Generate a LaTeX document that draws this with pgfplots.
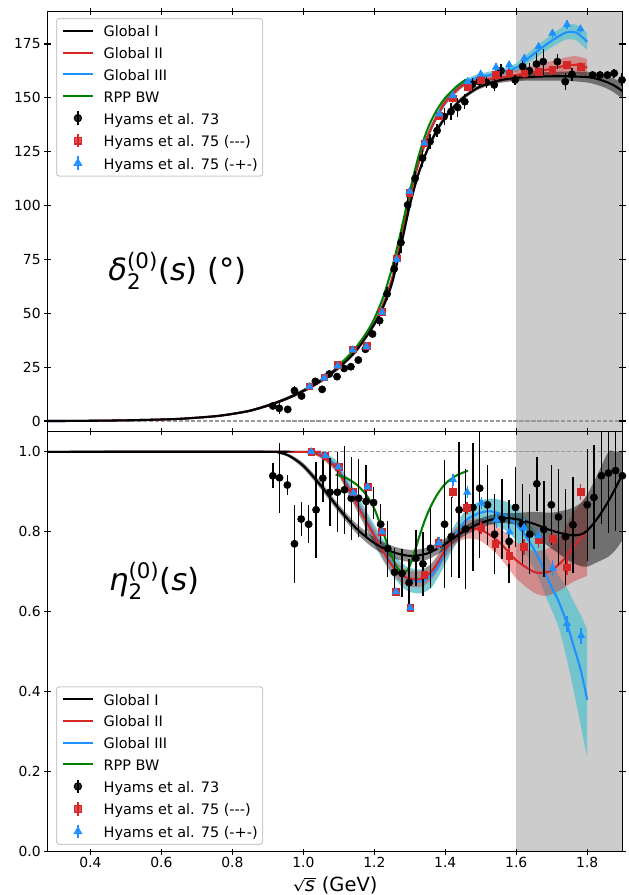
\documentclass[border=0pt]{standalone}
\usepackage{fontspec}
\setmainfont{DejaVu Sans}
\usepackage{graphicx}
\usepackage{pgfplots}
\usepackage{pgfplotstable}
\pgfplotsset{compat=1.18}
\usepgfplotslibrary{fillbetween}
\definecolor{mplred}{HTML}{D62728}
\definecolor{mplblue}{HTML}{1E90FF}
\definecolor{mplgreen}{HTML}{008000}
\definecolor{bandcyan}{RGB}{100,195,205}
\newcommand{\sqrts}{\mbox{\scalebox{1}[0.72]{√}\kern-0.04em\rlap{\rule[0.62em]{0.6em}{0.055em}}\kern0.03em\textit{s}\kern0.03em}}

\pgfplotsset{
  lineleg/.style={legend image code/.code={\draw[##1, line width=1.5pt] (0pt,0pt) -- (22pt,0pt);}},
  markleg/.style={legend image code/.code={\draw[##1, solid, line width=1pt, mark=none] (11pt,-4.8pt) -- (11pt,4.8pt); \draw[##1] plot coordinates {(11pt,0pt)};}},
  myax/.style={scale only axis, width=414pt, height=302.4pt, xmin=0.2791, xmax=1.9,
    set layers, axis on top,
    tick align=center, major tick length=4.8pt,
    axis line style={line width=0.8pt}, every tick/.style={black, line width=0.8pt},
    tick label style={font=\fontsize{10}{12}\selectfont},
    xticklabel shift=-2pt, yticklabel shift=-1pt,
    /pgf/number format/assume math mode=true,
    xtick={0.4,0.6,0.8,1.0,1.2,1.4,1.6,1.8},
    legend cell align=left,
    legend style={font=\fontsize{10.4}{12}\selectfont, draw=black!20, line width=0.8pt, rounded corners=2pt,
      fill=white, fill opacity=0.8, text opacity=1, draw opacity=1,
      inner xsep=3.6pt, inner ysep=4pt, row sep=5.6pt,
      nodes={inner sep=0pt, text height=9.3pt, text depth=0.7pt},
      /tikz/column 1/.style={column sep=6.8pt}},
  },
}

% ---------------- top panel curves: x  y  lo  hi
\pgfplotstableread{
x y lo hi
0.2791 0 0 0
0.35 0.05 0.05 0.05
0.45 0.2 0.2 0.2
0.55 0.5 0.4 0.6
0.65 1.0 0.8 1.2
0.75 2.2 1.9 2.5
0.8 3.3 2.9 3.7
0.85 4.8 4.3 5.3
0.9 7.2 6.6 7.8
0.95 10.2 9.5 10.9
1.0 14 13.2 14.8
1.05 18.8 17.9 19.7
1.1 25 24 26
1.15 33 32 34
1.2 45 43.8 46.2
1.225 53 51.6 54.4
1.25 64 62.5 65.5
1.275 81 79.5 82.5
1.3 100 98.5 101.5
1.325 115 113.5 116.5
1.35 126 124.5 127.5
1.375 134.5 133.1 135.9
1.4 141 139.8 142.2
1.425 146 144.9 147.1
1.45 150 149 151
1.475 153 152 154
1.5 155.3 154.3 156.3
1.55 158 156.8 159.2
1.6 159.3 157.8 160.8
1.65 159.8 158 161.6
1.7 160 158 162
1.75 160 157.8 162.2
1.8 159.6 157.1 162.1
1.83 158.7 155.9 161.5
1.86 157 154 160
1.88 155.3 152 158.6
1.9 153 149.5 156.5
}\gItop

\pgfplotstableread{
x y lo hi
0.2791 0 0 0
0.35 0.05 0.05 0.05
0.45 0.2 0.2 0.2
0.55 0.5 0.4 0.6
0.65 1.0 0.8 1.2
0.75 2.2 1.9 2.5
0.8 3.3 2.9 3.7
0.85 4.8 4.3 5.3
0.9 7.2 6.6 7.8
0.95 10.2 9.5 10.9
1.0 14 13.2 14.8
1.05 18.8 17.9 19.7
1.1 25 24 26
1.15 33 32 34
1.2 45 43.8 46.2
1.225 54 52.5 55.5
1.25 66 64.5 67.5
1.275 84 82.5 85.5
1.3 104 102.5 105.5
1.325 120 118.5 121.5
1.35 132 130.5 133.5
1.375 141 139.5 142.5
1.4 148 146.5 149.5
1.425 153 151.5 154.5
1.45 156.5 155 158
1.475 158.5 157 160
1.5 159.8 158.3 161.3
1.55 161.5 159.8 163.2
1.6 164 162 166
1.65 170.5 168 173
1.7 176.5 173.5 179.5
1.74 180.3 177 183.6
1.77 180.2 176.5 183.9
1.8 176 172 180
}\gIIItop

\pgfplotstableread{
x y lo hi
0.2791 0 0 0
0.35 0.05 0.05 0.05
0.45 0.2 0.2 0.2
0.55 0.5 0.4 0.6
0.65 1.0 0.8 1.2
0.75 2.2 1.9 2.5
0.8 3.3 2.9 3.7
0.85 4.8 4.3 5.3
0.9 7.2 6.6 7.8
0.95 10.2 9.5 10.9
1.0 14 13.2 14.8
1.05 18.8 17.9 19.7
1.1 25 24 26
1.15 33 32 34
1.2 45 43.8 46.2
1.225 54 52.5 55.5
1.25 66 64.5 67.5
1.275 84 82.5 85.5
1.3 104 102.5 105.5
1.325 120 118.5 121.5
1.35 132 130.5 133.5
1.375 141 139.5 142.5
1.4 148 146.5 149.5
1.425 152.5 151 154
1.45 156 154.8 157.2
1.475 157.3 156 158.6
1.5 158 156.5 159.5
1.55 159.2 157.4 161
1.6 160.6 158.2 163
1.65 162 159 165
1.7 163.5 160 167
1.74 165 161.2 168.8
1.77 165.3 161.3 169.3
1.8 164 160 168
}\gIItop

% ---------------- bottom panel curves
\pgfplotstableread{
x y lo hi
0.2791 1 1 1
0.9 1 1 1
0.93 0.998 0.996 1
0.96 0.99 0.986 0.994
1.0 0.965 0.958 0.972
1.05 0.915 0.906 0.924
1.1 0.858 0.848 0.868
1.15 0.808 0.796 0.82
1.2 0.772 0.758 0.786
1.25 0.75 0.735 0.765
1.3 0.74 0.725 0.755
1.35 0.746 0.731 0.761
1.4 0.77 0.756 0.784
1.45 0.80 0.788 0.812
1.5 0.822 0.81 0.834
1.55 0.834 0.822 0.846
1.6 0.832 0.817 0.847
1.65 0.82 0.79 0.85
1.7 0.803 0.758 0.848
1.75 0.792 0.727 0.857
1.78 0.793 0.715 0.871
1.8 0.803 0.713 0.893
1.83 0.835 0.725 0.945
1.86 0.877 0.738 1.0
1.88 0.91 0.755 1.0
1.9 0.945 0.78 1.0
}\gIbot

\pgfplotstableread{
x y lo hi
0.2791 1 1 1
1.0 1 1 1
1.02 0.999 0.997 1
1.05 0.99 0.983 0.997
1.08 0.97 0.961 0.979
1.1 0.95 0.94 0.96
1.15 0.87 0.855 0.885
1.2 0.79 0.772 0.808
1.25 0.716 0.696 0.736
1.29 0.686 0.666 0.706
1.33 0.682 0.662 0.702
1.36 0.70 0.68 0.72
1.38 0.725 0.705 0.745
1.4 0.755 0.735 0.775
1.43 0.79 0.77 0.81
1.46 0.805 0.783 0.827
1.5 0.805 0.777 0.833
1.55 0.776 0.74 0.812
1.6 0.729 0.684 0.774
1.65 0.70 0.648 0.752
1.68 0.698 0.64 0.756
1.7 0.704 0.644 0.764
1.73 0.727 0.657 0.797
1.76 0.76 0.675 0.845
1.8 0.806 0.69 0.89
}\gIIbot

\pgfplotstableread{
x y lo hi
0.2791 1 1 1
1.0 1 1 1
1.02 0.999 0.997 1
1.05 0.993 0.985 1
1.08 0.975 0.963 0.987
1.1 0.955 0.94 0.97
1.15 0.875 0.855 0.895
1.2 0.793 0.768 0.818
1.25 0.72 0.692 0.748
1.29 0.684 0.654 0.714
1.33 0.676 0.646 0.706
1.36 0.69 0.66 0.72
1.38 0.715 0.687 0.743
1.4 0.748 0.72 0.776
1.43 0.795 0.769 0.821
1.46 0.83 0.805 0.855
1.5 0.848 0.818 0.878
1.53 0.851 0.819 0.883
1.57 0.84 0.804 0.876
1.6 0.818 0.778 0.858
1.63 0.785 0.74 0.83
1.66 0.74 0.69 0.79
1.69 0.68 0.625 0.735
1.72 0.625 0.56 0.69
1.743 0.57 0.48 0.66
1.765 0.505 0.39 0.62
1.783 0.45 0.31 0.59
1.8 0.38 0.235 0.555
}\gIIIbot

\begin{document}
\begin{tikzpicture}
% ======================= TOP PANEL =======================
\begin{axis}[myax, name=top, ymin=-5, ymax=190,
  ytick={0,25,50,75,100,125,150,175}, xticklabels={},
  yticklabel style={/pgf/number format/fixed, /pgf/number format/precision=0},
  legend style={at={(0.0148,0.985)}, anchor=north west}]
\addplot[fill=black!20, draw=none, forget plot, on layer=axis background] coordinates {(1.6,-5) (1.9,-5) (1.9,190) (1.6,190)} -- cycle;
\addplot[black!40, line width=0.8pt, dash pattern=on 3pt off 1.3pt, forget plot, on layer=axis background] coordinates {(0.2791,0) (1.9,0)};
% bands
\addplot[draw=none, name path=IIIu, smooth, forget plot] table[x=x,y=hi] {\gIIItop};
\addplot[draw=none, name path=IIIl, smooth, forget plot] table[x=x,y=lo] {\gIIItop};
\addplot[fill=bandcyan, fill opacity=0.85, draw=none, forget plot] fill between[of=IIIu and IIIl];
\addplot[draw=none, name path=IIu, smooth, forget plot] table[x=x,y=hi] {\gIItop};
\addplot[draw=none, name path=IIl, smooth, forget plot] table[x=x,y=lo] {\gIItop};
\addplot[fill=mplred, fill opacity=0.4, draw=none, forget plot] fill between[of=IIu and IIl];
\addplot[draw=none, name path=Iu, smooth, forget plot] table[x=x,y=hi] {\gItop};
\addplot[draw=none, name path=Il, smooth, forget plot] table[x=x,y=lo] {\gItop};
\addplot[fill=black, fill opacity=0.45, draw=none, forget plot] fill between[of=Iu and Il];
% curves
\addplot[mplblue, line width=1.5pt, smooth, forget plot] table[x=x,y=y] {\gIIItop};
\addplot[mplred, line width=1.5pt, smooth, forget plot] table[x=x,y=y] {\gIItop};
\addplot[black, line width=1.5pt, smooth, forget plot] table[x=x,y=y] {\gItop};
\addplot[mplgreen, line width=1.5pt, smooth, forget plot] coordinates {
(1.087,24.6) (1.12,29) (1.15,34.5) (1.18,41.5) (1.2,47.5) (1.225,57.5) (1.25,71) (1.275,88)
(1.3,106.5) (1.325,123) (1.35,135.5) (1.375,144) (1.4,150) (1.43,155) (1.458,158.5)};
% data
\addplot[only marks, mark=*, mark size=2.6pt, black, forget plot,
  error bars/.cd, y dir=both, y explicit, error mark=none, error bar style={line width=1pt, black}]
  table[x=x, y=y, y error=e] {
x y e
0.914 7.0 1.5
0.932 5.9 2.5
0.956 5.4 1.2
0.975 14.1 2
0.995 11.6 1.2
1.034 18.4 1.5
1.053 14.7 1.5
1.073 21.8 1.5
1.095 20.6 1.5
1.115 24.4 1.5
1.134 25.2 1.5
1.155 28.3 1.5
1.175 33.3 1.5
1.195 40.4 2
1.215 46.6 2.5
1.236 59.0 3
1.256 70.6 3
1.275 82.8 5
1.294 100.3 4.5
1.315 112.6 3.5
1.336 122 4
1.357 129.7 3.5
1.377 134.8 3
1.397 141.3 4
1.416 143.6 4
1.435 145.5 4.5
1.455 148.2 3.5
1.477 156.3 3
1.496 157.5 2.5
1.516 157.2 2.5
1.538 156 3
1.557 162.6 3
1.597 158.3 2.5
1.618 164.5 3
1.637 162.6 3.5
1.657 165.7 5
1.676 166.8 6
1.716 166.8 3.5
1.738 157.5 4
1.757 160.9 3
1.815 160.6 2
1.836 160.6 2
1.857 160.6 2
1.876 161.4 2
1.898 158.3 3
};
\addplot[only marks, mark=square*, mark size=2.4pt, mplred, forget plot,
  error bars/.cd, y dir=both, y explicit, error mark=none, error bar style={line width=1pt, mplred}]
  table[x=x, y=y, y error=e] {
x y e
1.017 16.2 1
1.059 20.3 1
1.097 26.0 1
1.139 33.3 1
1.178 34.8 1
1.222 50.8 1.5
1.263 75.5 1.5
1.299 106 2
1.341 128.9 2
1.383 141.6 2
1.421 149.8 2
1.463 155.2 2
1.50 158.3 2
1.543 160.6 2
1.58 161.4 2
1.623 161.4 2
1.663 162.2 2
1.702 163 2
1.743 165.3 2
1.781 164.5 2
};
\addplot[only marks, mark=triangle*, mark size=3pt, mplblue, forget plot,
  error bars/.cd, y dir=both, y explicit, error mark=none, error bar style={line width=1pt, mplblue}]
  table[x=x, y=y, y error=e] {
x y e
1.017 16.0 1
1.059 20.0 1
1.097 25.5 1
1.139 33.0 1
1.178 34.5 1
1.222 50.5 1.5
1.263 75 1.5
1.299 106.5 2
1.341 129 2
1.383 142.5 2
1.421 151 2
1.463 157.5 2
1.50 161 2
1.543 164.2 2
1.58 165.3 2
1.623 168.4 2
1.663 173.8 2
1.702 180 2
1.743 184 2
1.781 182 2
};
% legend
\addlegendimage{lineleg, black}\addlegendentry{Global I}
\addlegendimage{lineleg, mplred}\addlegendentry{Global II}
\addlegendimage{lineleg, mplblue}\addlegendentry{Global III}
\addlegendimage{lineleg, mplgreen}\addlegendentry{RPP BW}
\addlegendimage{markleg, only marks, mark=*, mark size=2.6pt, black}\addlegendentry{Hyams et al. 73}
\addlegendimage{markleg, only marks, mark=square*, mark size=2.4pt, mplred}\addlegendentry{Hyams et al. 75 (-{}-{}-)}
\addlegendimage{markleg, only marks, mark=triangle*, mark size=3pt, mplblue}\addlegendentry{Hyams et al. 75 (-+-)}
\node[anchor=base west, inner sep=0pt, font=\fontsize{22}{26}\selectfont] at (axis cs:0.45,65)
  {\textit{δ}$_{\mbox{\fontsize{15.4}{16}\selectfont 2}}^{\mbox{\fontsize{15.4}{16}\selectfont (0)}}$(\textit{s}) (°)};
\end{axis}

% ======================= BOTTOM PANEL =======================
\begin{axis}[myax, name=bot, at={(top.south west)}, anchor=north west, ymin=0, ymax=1.05,
  ytick={0,0.2,0.4,0.6,0.8,1.0},
  yticklabel style={/pgf/number format/fixed, /pgf/number format/fixed zerofill, /pgf/number format/precision=1},
  xticklabel style={/pgf/number format/fixed, /pgf/number format/fixed zerofill, /pgf/number format/precision=1},
  xlabel={\sqrts{} (GeV)},
  xlabel style={font=\fontsize{14}{16}\selectfont, at={(axis description cs:0.5,-0.0935)}, anchor=base},
  legend style={at={(0.0148,0.0167)}, anchor=south west}]
\addplot[fill=black!20, draw=none, forget plot, on layer=axis background] coordinates {(1.6,0) (1.9,0) (1.9,1.05) (1.6,1.05)} -- cycle;
\addplot[black!40, line width=0.8pt, dash pattern=on 3pt off 1.3pt, forget plot, on layer=axis background] coordinates {(0.2791,1) (1.9,1)};
% bands
\addplot[draw=none, name path=bIIIu, smooth, forget plot] table[x=x,y=hi] {\gIIIbot};
\addplot[draw=none, name path=bIIIl, smooth, forget plot] table[x=x,y=lo] {\gIIIbot};
\addplot[fill=bandcyan, fill opacity=0.85, draw=none, forget plot] fill between[of=bIIIu and bIIIl];
\addplot[draw=none, name path=bIIu, smooth, forget plot] table[x=x,y=hi] {\gIIbot};
\addplot[draw=none, name path=bIIl, smooth, forget plot] table[x=x,y=lo] {\gIIbot};
\addplot[fill=mplred, fill opacity=0.4, draw=none, forget plot] fill between[of=bIIu and bIIl];
\addplot[draw=none, name path=bIu, smooth, forget plot] table[x=x,y=hi] {\gIbot};
\addplot[draw=none, name path=bIl, smooth, forget plot] table[x=x,y=lo] {\gIbot};
\addplot[fill=black, fill opacity=0.45, draw=none, forget plot] fill between[of=bIu and bIl];
% curves
\addplot[mplblue, line width=1.5pt, smooth, forget plot] table[x=x,y=y] {\gIIIbot};
\addplot[mplred, line width=1.5pt, smooth, forget plot] table[x=x,y=y] {\gIIbot};
\addplot[black, line width=1.5pt, smooth, forget plot] table[x=x,y=y] {\gIbot};
\addplot[mplgreen, line width=1.5pt, smooth, forget plot] coordinates {
(1.091,0.943) (1.12,0.935) (1.15,0.918) (1.175,0.895) (1.2,0.858) (1.225,0.798) (1.25,0.737)
(1.265,0.71) (1.28,0.697) (1.295,0.706) (1.31,0.74) (1.33,0.797) (1.35,0.846) (1.375,0.89)
(1.4,0.92) (1.43,0.94) (1.464,0.953)};
% data
\addplot[only marks, mark=*, mark size=2.6pt, black, forget plot,
  error bars/.cd, y dir=both, y explicit, error mark=none, error bar style={line width=1pt, black}]
  table[x=x, y=y, y error=e] {
x y e
0.914 0.940 0.031
0.933 0.935 0.088
0.955 0.917 0.026
0.975 0.770 0.097
0.994 0.832 0.042
1.015 0.819 0.048
1.036 0.855 0.12
1.055 0.934 0.06
1.075 0.899 0.085
1.096 0.899 0.1
1.116 0.905 0.11
1.135 0.884 0.104
1.156 0.884 0.097
1.177 0.876 0.09
1.198 0.873 0.04
1.218 0.819 0.05
1.238 0.758 0.07
1.257 0.699 0.06
1.278 0.696 0.06
1.298 0.673 0.06
1.317 0.734 0.07
1.337 0.72 0.08
1.358 0.759 0.1
1.398 0.819 0.16
1.417 0.788 0.1
1.439 0.855 0.17
1.457 0.807 0.15
1.478 0.861 0.16
1.497 0.909 0.175
1.519 0.8675 0.1
1.539 0.794 0.1
1.56 0.832 0.1
1.58 0.776 0.104
1.598 0.861 0.1
1.617 0.819 0.1
1.638 0.794 0.1
1.658 0.92 0.068
1.678 0.806 0.12
1.699 0.8675 0.1
1.719 0.837 0.12
1.739 0.788 0.12
1.76 0.8175 0.12
1.80 0.8675 0.14
1.819 0.886 0.13
1.84 0.94 0.12
1.86 0.947 0.15
1.88 0.953 0.15
1.899 0.94 0.12
};
\addplot[only marks, mark=square*, mark size=2.4pt, mplred, forget plot,
  error bars/.cd, y dir=both, y explicit, error mark=none, error bar style={line width=1pt, mplred}]
  table[x=x, y=y, y error=e] {
x y e
1.022 1.0 0.005
1.062 0.99 0.008
1.099 0.962 0.01
1.141 0.90 0.01
1.181 0.912 0.01
1.222 0.80 0.01
1.261 0.65 0.01
1.301 0.61 0.01
1.341 0.6925 0.01
1.38 0.772 0.015
1.421 0.90 0.015
1.461 0.86 0.015
1.501 0.809 0.015
1.541 0.77 0.02
1.58 0.74 0.02
1.622 0.762 0.02
1.663 0.78 0.02
1.703 0.782 0.02
1.743 0.711 0.02
1.781 0.90 0.02
};
\addplot[only marks, mark=triangle*, mark size=3pt, mplblue, forget plot,
  error bars/.cd, y dir=both, y explicit, error mark=none, error bar style={line width=1pt, mplblue}]
  table[x=x, y=y, y error=e] {
x y e
1.022 1.0 0.005
1.062 0.99 0.008
1.099 0.962 0.01
1.141 0.897 0.01
1.181 0.912 0.01
1.222 0.80 0.01
1.261 0.65 0.01
1.301 0.61 0.01
1.382 0.772 0.015
1.422 0.93 0.015
1.462 0.899 0.015
1.502 0.872 0.015
1.544 0.83 0.02
1.581 0.80 0.02
1.622 0.811 0.02
1.663 0.79 0.02
1.703 0.709 0.02
1.743 0.57 0.02
1.783 0.54 0.02
};
% legend
\addlegendimage{lineleg, black}\addlegendentry{Global I}
\addlegendimage{lineleg, mplred}\addlegendentry{Global II}
\addlegendimage{lineleg, mplblue}\addlegendentry{Global III}
\addlegendimage{lineleg, mplgreen}\addlegendentry{RPP BW}
\addlegendimage{markleg, only marks, mark=*, mark size=2.6pt, black}\addlegendentry{Hyams et al. 73}
\addlegendimage{markleg, only marks, mark=square*, mark size=2.4pt, mplred}\addlegendentry{Hyams et al. 75 (-{}-{}-)}
\addlegendimage{markleg, only marks, mark=triangle*, mark size=3pt, mplblue}\addlegendentry{Hyams et al. 75 (-+-)}
\node[anchor=base west, inner sep=0pt, font=\fontsize{22}{26}\selectfont] at (axis cs:0.452,0.6525)
  {\textit{η}$_{\mbox{\fontsize{15.4}{16}\selectfont 2}}^{\mbox{\fontsize{15.4}{16}\selectfont (0)}}$(\textit{s})};
\end{axis}
\pgfresetboundingbox
\path[use as bounding box] ([xshift=-34.2pt,yshift=8.4pt]top.north west) rectangle ([xshift=3.9pt,yshift=-31pt]bot.south east);
\end{tikzpicture}
\end{document}
